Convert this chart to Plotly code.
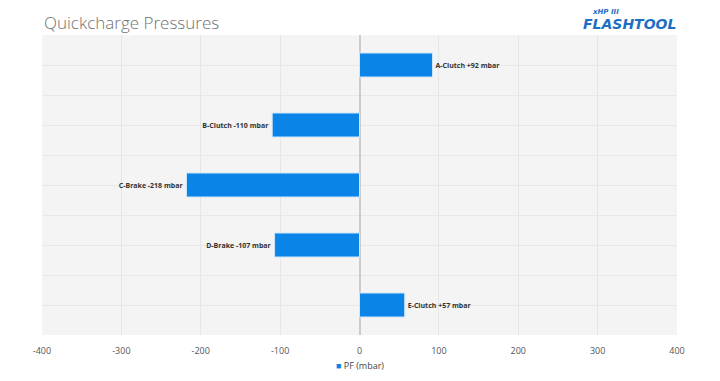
import plotly.graph_objects as go

categories = ["A-Clutch", "B-Clutch", "C-Brake", "D-Brake", "E-Clutch"]
values = [92, -110, -218, -107, 57]
x_ticks = [-400, -300, -200, -100, 0, 100, 200, 300, 400]
series_name = "PF (mbar)"

positions = list(range(len(categories)))
labels = [f"{c} {'+' if v > 0 else ''}{v} mbar" for c, v in zip(categories, values)]

fig = go.Figure()
fig.add_trace(go.Bar(
    x=values, y=positions, orientation="h", name=series_name,
    width=0.4,
    marker=dict(color="#0a84e6", line=dict(color="#cfe6fa", width=1)),
    text=labels, textposition="outside", cliponaxis=False,
    textfont=dict(family="Open Sans", size=7, color="#333333", weight="bold"),
    showlegend=False,
))

fig.update_layout(
    width=720, height=381,
    margin=dict(l=34, r=51, t=27, b=54, autoexpand=False),
    paper_bgcolor="white", plot_bgcolor="#f4f4f4",
    font=dict(family="Open Sans", color="#555555"),
    title=dict(text="Quickcharge Pressures", x=0.05, xanchor="left", y=0.975, yanchor="top",
               font=dict(family="Open Sans", size=17, color="#707070", weight=300)),
    showlegend=False,
    bargap=0.6,
)
fig.update_xaxes(range=[-400, 400], tickvals=x_ticks, ticktext=[str(t) for t in x_ticks],
                 showgrid=True, gridcolor="#e6e6e6", gridwidth=1,
                 zeroline=True, zerolinecolor="#cccccc", zerolinewidth=2,
                 tickfont=dict(size=9, color="#555555"),
                 ticks="outside", ticklen=7, tickcolor="rgba(0,0,0,0)", showline=False)
fig.update_yaxes(range=[4.5, -0.5], tickmode="linear", tick0=-0.5, dtick=0.5,
                 showticklabels=False, showgrid=True, gridcolor="#e8e8e8", gridwidth=1,
                 zeroline=False, ticks="")

# legend (drawn as annotation for compact spacing)
fig.add_annotation(xref="paper", yref="paper", x=0.5, y=-0.103, xanchor="center", yanchor="middle",
                   text=f"<span style='color:#0a84e6'>■</span> {series_name}", showarrow=False,
                   font=dict(family="Open Sans", size=9, color="#444444"))

# logo
fig.add_annotation(xref="paper", yref="paper", x=1.0, y=1.037, xanchor="right", yanchor="middle",
                   text="<b><i>FLASHTOOL</i></b>", showarrow=False, borderpad=0,
                   font=dict(family="DejaVu Sans", size=14, color="#1d6fc4"))
fig.add_annotation(xref="paper", yref="paper", x=0.91, y=1.076, xanchor="right", yanchor="middle",
                   text="<b><i>xHP III</i></b>", showarrow=False, borderpad=0,
                   font=dict(family="DejaVu Sans", size=7, color="#1d6fc4"))

fig.write_html("out.html")
